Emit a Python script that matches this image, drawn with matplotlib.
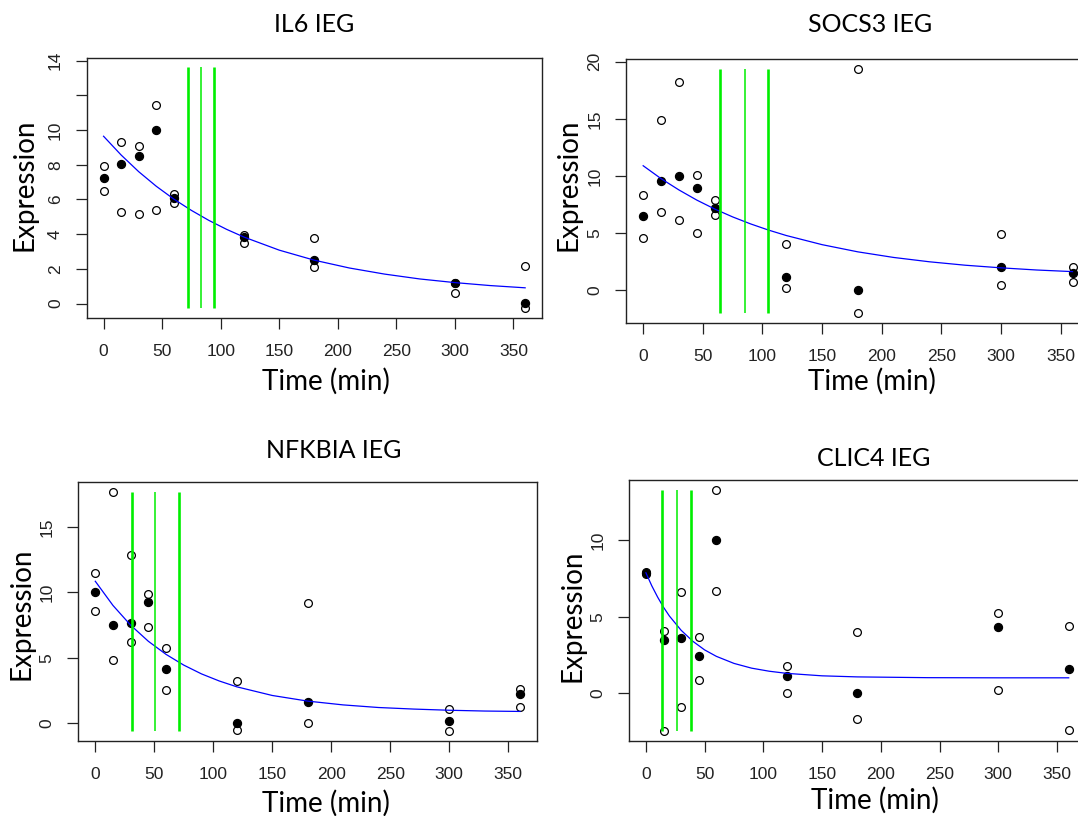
import matplotlib.pyplot as plt

W, H = 1078, 816

times = [0, 15, 30, 45, 60, 120, 180, 300, 360]
fit_t = [0, 15, 30, 45, 60, 75, 90, 105, 120, 150, 180, 210, 240, 270, 300, 330, 360]
clic4_fit_t = [0, 5, 10, 15, 20, 30, 40, 50, 60, 75, 90, 105, 120, 150, 180, 240, 300, 360]
xticks = [0, 50, 100, 150, 200, 250, 300, 350]

titles = ['IL6 IEG', 'SOCS3 IEG', 'NFKBIA IEG', 'CLIC4 IEG']

# IL6
il6_open_a = [7.93, 9.33, 9.06, 11.45, 6.34, 3.95, 3.78, 1.20, 2.18]
il6_open_b = [6.50, 5.28, 5.15, 5.40, 5.82, 3.49, 2.12, 0.60, -0.27]
il6_filled = [7.21, 8.06, 8.48, 9.99, 6.09, 3.86, 2.53, 1.16, 0.02]
il6_fit = [9.64, 8.56, 7.60, 6.76, 6.02, 5.37, 4.79, 4.28, 3.83, 3.08, 2.50,
           2.05, 1.70, 1.42, 1.21, 1.04, 0.91]
il6_halflife = [72, 83, 94]

# SOCS3
socs3_open_a = [8.37, 14.90, 18.19, 10.12, 7.87, 4.08, 19.36, 4.96, 2.07]
socs3_open_b = [4.61, 6.82, 6.18, 4.99, 6.56, 0.23, -2.01, 0.47, 0.70]
socs3_filled = [6.50, 9.53, 9.97, 8.92, 7.23, 1.20, 0.00, 2.04, 1.49]
socs3_fit = [10.90, 9.77, 8.78, 7.89, 7.11, 6.42, 5.81, 5.27, 4.79, 3.99, 3.36,
             2.87, 2.49, 2.19, 1.96, 1.77, 1.63]
socs3_halflife = [64, 85, 105]

# NFKBIA
nfkbia_open_a = [11.45, 17.68, 12.83, 9.85, 5.74, 3.19, 9.21, 1.07, 2.62]
nfkbia_open_b = [8.55, 4.82, 6.17, 7.35, 2.53, -0.51, 0.00, -0.64, 1.20]
nfkbia_filled = [10.00, 7.47, 7.65, 9.26, 4.13, 0.00, 1.58, 0.13, 2.25]
nfkbia_fit = [10.84, 8.99, 7.48, 6.25, 5.25, 4.43, 3.76, 3.22, 2.77, 2.11, 1.68,
              1.39, 1.19, 1.07, 0.98, 0.92, 0.89]
nfkbia_halflife = [31.5, 51, 71]

# CLIC4
clic4_open_a = [7.95, 4.07, 6.63, 3.70, 13.28, 1.76, 4.02, 5.26, 4.41]
clic4_open_b = [7.78, -2.46, -0.89, 0.87, 6.67, 0.02, -1.65, 0.22, -2.37]
clic4_filled = [7.87, 3.50, 3.63, 2.46, 10.00, 1.17, 0.00, 4.33, 1.57]
clic4_fit = [7.87, 7.02, 6.28, 5.62, 5.05, 4.12, 3.40, 2.84, 2.42, 1.96, 1.65,
             1.45, 1.31, 1.15, 1.08, 1.03, 1.02, 1.02]
clic4_halflife = [13.4, 26.2, 38.5]

yticks = [[0, 2, 4, 6, 8, 10, 12, 14], [0, 5, 10, 15, 20], [0, 5, 10, 15], [0, 5, 10]]
# R drops the "12" label on the IL6 axis (overlap)
yticklabels = [['0', '2', '4', '6', '8', '10', '', '14'], ['0', '5', '10', '15', '20'],
               ['0', '5', '10', '15'], ['0', '5', '10']]
ylims = [(-0.8, 14.13), (-2.87, 20.22), (-1.37, 18.45), (-3.1, 13.92)]
green_span = [(-0.27, 13.65), (-2.01, 19.4), (-0.64, 17.68), (-2.46, 13.28)]

panels = [
    (il6_open_a, il6_open_b, il6_filled, fit_t, il6_fit, il6_halflife),
    (socs3_open_a, socs3_open_b, socs3_filled, fit_t, socs3_fit, socs3_halflife),
    (nfkbia_open_a, nfkbia_open_b, nfkbia_filled, fit_t, nfkbia_fit, nfkbia_halflife),
    (clic4_open_a, clic4_open_b, clic4_filled, clic4_fit_t, clic4_fit, clic4_halflife),
]

# box (left, top, right, bottom) in pixels
boxes = [(86.7, 58.3, 542, 317.5), (626, 59.3, 1089.7, 323),
         (78.3, 481.7, 537, 741), (629, 480, 1085.6, 741)]
title_pos = [(314, 24), (870, 24), (334, 451), (874, 459)]
ylab_pos = [(24, 185), (569, 185), (21.5, 614), (572, 615.5)]
xlab_pos = [(326, 381), (872, 381), (326, 803), (875, 800)]

label_font = ['Lato', 'DejaVu Sans']
tick_font = 'Liberation Sans'

fig = plt.figure(figsize=(W / 100, H / 100), dpi=100)

for i, (oa, ob, fl, ft, fv, hl) in enumerate(panels):
    l, t, r, b = boxes[i]
    ax = fig.add_axes([l / W, 1 - b / H, (r - l) / W, (b - t) / H])
    ax.plot(times, oa, 'o', mfc='white', mec='black', ms=5.6, mew=0.9, zorder=2)
    ax.plot(times, ob, 'o', mfc='white', mec='black', ms=5.6, mew=0.9, zorder=2)
    ax.plot(times, fl, 'o', mfc='black', mec='black', ms=5.8, mew=0.9, zorder=3)
    ax.plot(ft, fv, '-', color='#0000ff', lw=0.9, zorder=4)
    y0, y1 = green_span[i]
    ax.vlines(hl[0], y0, y1, color='#00ee00', lw=1.9, zorder=5)
    ax.vlines(hl[1], y0, y1, color='#00ee00', lw=1.1, zorder=5)
    ax.vlines(hl[2], y0, y1, color='#00ee00', lw=1.9, zorder=5)

    ax.set_xlim(-14.4, 374.4)
    ax.set_ylim(*ylims[i])
    ax.set_xticks(xticks)
    ax.set_yticks(yticks[i])
    ax.set_yticklabels(yticklabels[i])
    ax.tick_params(axis='both', direction='out', length=8, width=0.9,
                   colors='#222222', labelsize=12.5)
    ax.tick_params(axis='x', pad=11)
    ax.tick_params(axis='y', pad=9)
    for lab in ax.get_xticklabels():
        lab.set_fontfamily(tick_font)
    for lab in ax.get_yticklabels():
        lab.set_fontfamily(tick_font)
        lab.set_rotation(90)
        lab.set_va('center')
    for s in ax.spines.values():
        s.set_linewidth(1.0)
        s.set_color('#222222')

    fig.text(title_pos[i][0] / W, 1 - title_pos[i][1] / H, titles[i],
             ha='center', va='center', fontsize=18, family=label_font)
    fig.text(ylab_pos[i][0] / W, 1 - ylab_pos[i][1] / H, 'Expression',
             ha='center', va='center', rotation=90, fontsize=20, family=label_font)
    fig.text(xlab_pos[i][0] / W, 1 - xlab_pos[i][1] / H, 'Time (min)',
             ha='center', va='center', fontsize=20, family=label_font)

fig.savefig('out.png', dpi=100)
